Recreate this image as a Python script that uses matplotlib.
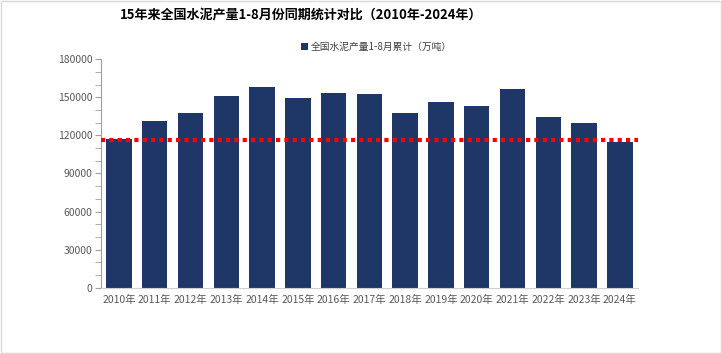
import matplotlib.pyplot as plt
from matplotlib.ticker import MultipleLocator
from matplotlib.patches import Rectangle

plt.rcParams['font.family'] = ['Noto Sans CJK SC', 'DejaVu Sans']

years = ["2010年", "2011年", "2012年", "2013年", "2014年", "2015年", "2016年", "2017年",
         "2018年", "2019年", "2020年", "2021年", "2022年", "2023年", "2024年"]
output = [117200, 131400, 137700, 151300, 158400, 149500, 153400, 152600,
          137700, 146300, 143200, 156600, 134500, 129800, 114800]
baseline = 116700

title = "15年来全国水泥产量1-8月份同期统计对比（2010年-2024年）"
legend_label = "全国水泥产量1-8月累计（万吨）"

bar_color = "#1F3767"
text_color = "#595959"

fig = plt.figure(figsize=(7.22, 3.54), dpi=100)
ax = fig.add_axes([0.1399, 0.1873, 0.7434, 0.6452])

x = range(len(years))
ax.bar(x, output, width=0.71, color=bar_color, label=legend_label, zorder=2)
ax.axhline(baseline, color="#FF0000", linewidth=3, linestyle=(0, (1, 1)), zorder=3)

ax.set_xlim(-0.5, len(years) - 0.5)
ax.set_ylim(0, 180000)
ax.set_xticks(list(x))
ax.set_xticklabels(years, fontsize=7.5, color=text_color)
ax.yaxis.set_major_locator(MultipleLocator(30000))
ax.yaxis.set_minor_locator(MultipleLocator(10000))
ax.tick_params(axis="y", which="both", length=4, color="#A0A0A0", labelsize=7.5,
               labelcolor=text_color, pad=2)
ax.tick_params(axis="x", length=0, pad=5)

for side in ["top", "right"]:
    ax.spines[side].set_visible(False)
ax.spines["left"].set_color("#A0A0A0")
ax.spines["bottom"].set_color("#D0D0D0")

fig.text(0.166, 0.957, title, fontsize=9.4, fontweight="bold", color="#000000",
         va="center", ha="left")

leg = ax.legend(loc="lower left", bbox_to_anchor=(0.366, 1.015), frameon=False,
                fontsize=7, handlelength=0.7, handleheight=0.7, handletextpad=0.3,
                borderaxespad=0)
for t in leg.get_texts():
    t.set_color("#404040")

fig.patches.append(Rectangle((0.002, 0.004), 0.996, 0.992, transform=fig.transFigure,
                             fill=False, edgecolor="#D9D9D9", linewidth=1))

fig.savefig("out.png", dpi=100)
